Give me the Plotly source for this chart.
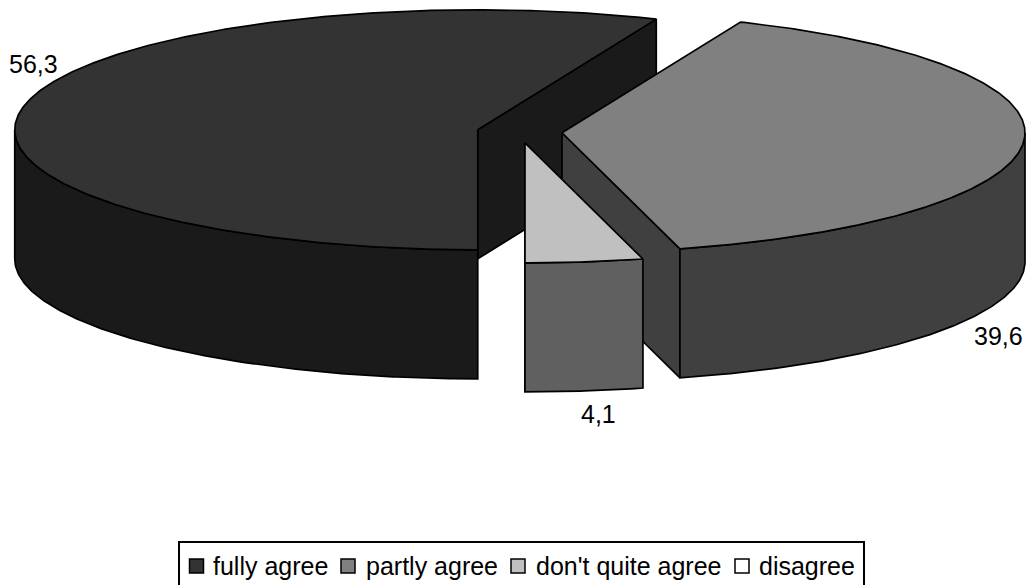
import numpy as np
import plotly.graph_objects as go

# Survey answers, percent
categories = ["fully agree", "partly agree", "don't quite agree", "disagree"]
shares = [56.3, 39.6, 4.1, 0.0]
share_labels = ["56,3", "39,6", "4,1"]
top_colors = ["#333333", "#808080", "#C0C0C0", "#FFFFFF"]
side_colors = ["#1A1A1A", "#404040", "#606060", "#808080"]
label_spots = [(33, 64), (998, 336), (598, 414)]

# Key layout: swatch centres and text starts along one row
key_swatch_x = [196.5, 348, 518, 742]
key_text_x = [212, 365, 535, 758]
KEY_Y = 566.0

# Projection of the tilted disc onto the pixel-sized axes
CENTER_X, CENTER_Y = 519.5, 132.0
RADIUS_X, RADIUS_Y = 463.0, 120.0
DEPTH = 129.0
EXPLODE = 0.092
START_ANGLE = 180.0
FONT = "Liberation Sans"


def rim(cx, cy, a0, a1):
    """Points on the rim between two clockwise-from-top angles."""
    t = np.radians(np.linspace(a0, a1, max(int(abs(a1 - a0) * 2), 2)))
    return cx + RADIUS_X * np.sin(t), cy - RADIUS_Y * np.cos(t)


def poly(fig, xs, ys, color):
    fig.add_trace(go.Scatter(
        x=xs, y=ys, mode="lines", fill="toself", fillcolor=color,
        line=dict(color="#000000", width=1.7), hoverinfo="skip", showlegend=False,
    ))


fig = go.Figure()

angle = START_ANGLE
for value, top, side in zip(shares, top_colors, side_colors):
    if value <= 0:
        continue
    sweep = value * 3.6
    a0, a1 = angle, angle + sweep
    mid = np.radians((a0 + a1) / 2)
    cx = CENTER_X + EXPLODE * RADIUS_X * np.sin(mid)
    cy = CENTER_Y - EXPLODE * RADIUS_Y * np.cos(mid)

    # Flat cut face seen from the front
    end = np.radians(a1)
    ex, ey = cx + RADIUS_X * np.sin(end), cy - RADIUS_Y * np.cos(end)
    if np.cos(end) < 0.999 and np.sin(end) > 0:
        poly(fig, [cx, ex, ex, cx, cx], [cy, ey, ey + DEPTH, cy + DEPTH, cy], side)

    # Outer wall: only the front half of the rim faces the viewer
    lo, hi = max(a0, 90.0), min(a1, 270.0)
    if hi > lo:
        wx, wy = rim(cx, cy, lo, hi)
        poly(fig,
             np.r_[wx, wx[::-1], wx[0]],
             np.r_[wy, wy[::-1] + DEPTH, wy[0]],
             side)

    # Top surface
    tx, ty = rim(cx, cy, a0, a1)
    poly(fig, np.r_[cx, tx, cx], np.r_[cy, ty, cy], top)
    angle = a1 % 360

# Value labels
for text, (lx, ly) in zip(share_labels, label_spots):
    fig.add_annotation(x=lx, y=ly, text=text, showarrow=False,
                       font=dict(family=FONT, size=25, color="#000000"))

# Key: the frame runs past the bottom of the page
fig.add_shape(type="rect", x0=179, x1=864, y0=542, y1=600,
              line=dict(color="#000000", width=2), fillcolor="#FFFFFF", layer="below")
fig.add_trace(go.Scatter(
    x=key_swatch_x, y=[KEY_Y] * len(categories), mode="markers",
    text=categories, hoverinfo="text", showlegend=False,
    marker=dict(symbol="square", size=14, color=top_colors,
                line=dict(color="#000000", width=1.5)),
))
for name, tx in zip(categories, key_text_x):
    fig.add_annotation(x=tx, y=KEY_Y, text=name, showarrow=False, xanchor="left",
                       xshift=-1, font=dict(family=FONT, size=25, color="#000000"))

fig.update_layout(
    width=1026, height=585,
    margin=dict(l=0, r=0, t=0, b=0),
    paper_bgcolor="#FFFFFF", plot_bgcolor="#FFFFFF",
    xaxis=dict(range=[0, 1026], visible=False, fixedrange=True),
    yaxis=dict(range=[585, 0], visible=False, fixedrange=True),
    showlegend=False,
)

fig.write_html("out.html", config=dict(displayModeBar=False))
